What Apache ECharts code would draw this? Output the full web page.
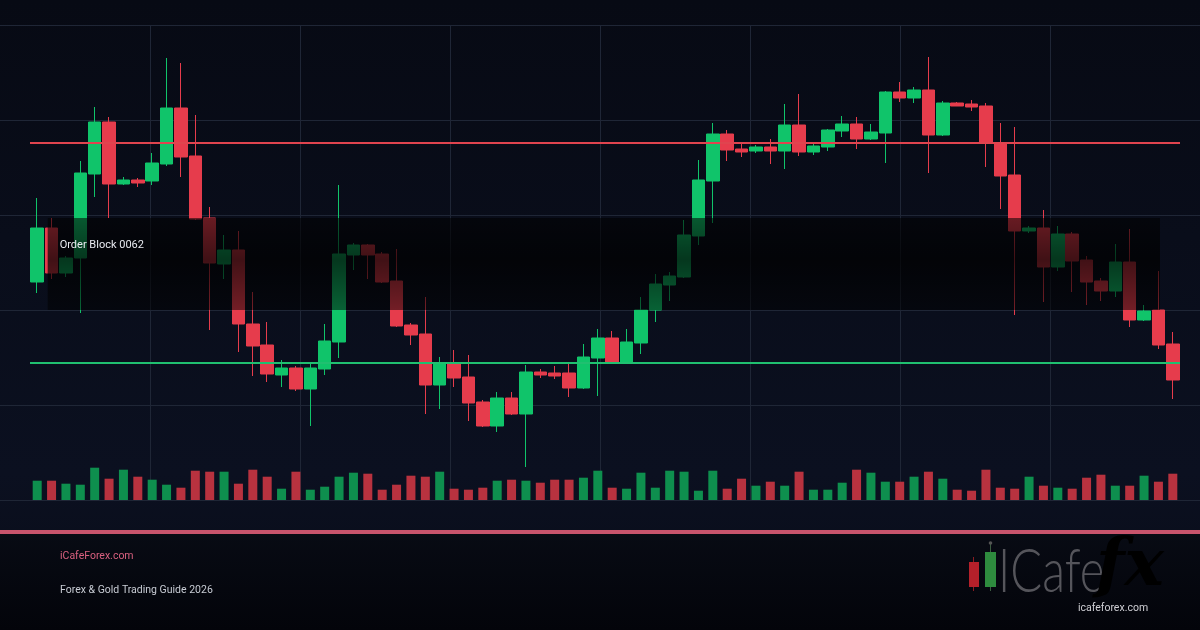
<!DOCTYPE html>
<html>
<head>
<meta charset="utf-8">
<title>Order Block chart</title>
<script src="https://cdn.jsdelivr.net/npm/echarts@6/dist/echarts.min.js"></script>
<style>
  html, body { margin: 0; padding: 0; background: #070a14; }
  #chart { width: 1200px; height: 630px; }
</style>
</head>
<body>
<div id="chart"></div>
<script>
// candle data, price scale ~ gold
var openP  = [2024.3, 2029.7, 2025.2, 2026.7, 2035.1, 2040.3, 2034.1, 2034.5, 2034.4, 2036.1,
              2041.7, 2036.9, 2030.7, 2026.1, 2027.5, 2020.1, 2018.0, 2015.0, 2015.7, 2013.6,
              2015.6, 2018.3, 2027.0, 2028.0, 2027.1, 2024.4, 2020.0, 2019.1, 2014.0, 2016.1,
              2014.8, 2012.3, 2009.9, 2012.7, 2011.1, 2015.3, 2015.2, 2015.2, 2013.7, 2016.7,
              2018.7, 2016.3, 2018.2, 2021.5, 2024.0, 2024.8, 2028.9, 2034.4, 2039.1, 2037.6,
              2037.4, 2037.8, 2037.4, 2040.0, 2037.3, 2037.8, 2039.4, 2040.1, 2038.6, 2039.2,
              2043.3, 2042.7, 2043.5, 2039.0, 2042.2, 2042.1, 2041.9, 2038.2, 2035.0, 2029.4,
              2029.7, 2025.8, 2029.1, 2026.5, 2024.4, 2023.4, 2026.3, 2020.5, 2021.5, 2018.1];
var closeP = [2029.7, 2025.2, 2026.7, 2035.2, 2040.3, 2034.1, 2034.5, 2034.2, 2036.2, 2041.7,
              2036.8, 2030.6, 2026.2, 2027.5, 2020.1, 2017.9, 2015.1, 2015.7, 2013.6, 2015.7,
              2018.4, 2027.1, 2028.0, 2027.0, 2024.3, 2019.9, 2019.0, 2014.0, 2016.2, 2014.7,
              2012.2, 2009.9, 2012.7, 2011.1, 2015.3, 2015.0, 2014.9, 2013.7, 2016.8, 2018.7,
              2016.3, 2018.3, 2021.5, 2024.1, 2024.9, 2029.0, 2034.5, 2039.1, 2037.5, 2037.3,
              2037.8, 2037.4, 2040.0, 2037.3, 2037.9, 2039.5, 2040.1, 2038.6, 2039.3, 2043.3,
              2042.7, 2043.5, 2039.0, 2042.2, 2041.9, 2041.8, 2038.2, 2034.9, 2029.4, 2029.7,
              2025.8, 2029.1, 2026.4, 2024.3, 2023.4, 2026.3, 2020.5, 2021.4, 2018.0, 2014.5];
var lowP   = [2023.2, 2024.6, 2024.8, 2021.2, 2032.8, 2030.7, 2034.0, 2033.8, 2034.0, 2035.9,
              2034.8, 2030.5, 2019.5, 2024.6, 2017.3, 2014.9, 2014.3, 2013.8, 2013.4, 2009.9,
              2015.0, 2016.7, 2025.5, 2024.6, 2024.2, 2019.8, 2018.0, 2011.1, 2011.6, 2013.8,
              2010.4, 2009.8, 2009.3, 2011.0, 2005.8, 2014.7, 2014.6, 2012.8, 2013.6, 2012.9,
              2016.1, 2016.2, 2017.1, 2020.3, 2022.4, 2024.7, 2028.0, 2030.2, 2036.4, 2036.8,
              2037.2, 2036.1, 2035.6, 2036.9, 2037.0, 2037.4, 2038.8, 2037.6, 2038.5, 2036.2,
              2042.3, 2042.2, 2035.2, 2038.9, 2041.9, 2041.4, 2035.8, 2031.6, 2021.0, 2029.2,
              2022.3, 2025.4, 2023.3, 2022.0, 2022.4, 2022.8, 2019.8, 2020.4, 2017.6, 2012.6];
var highP  = [2032.7, 2030.7, 2026.9, 2036.4, 2041.8, 2040.8, 2034.8, 2034.7, 2037.2, 2046.7,
              2046.2, 2041.0, 2031.8, 2029.0, 2029.4, 2023.3, 2020.3, 2016.5, 2015.9, 2016.1,
              2020.1, 2034.0, 2028.2, 2028.1, 2027.3, 2027.6, 2020.2, 2022.8, 2016.8, 2017.5,
              2017.0, 2012.5, 2013.3, 2013.3, 2016.0, 2015.6, 2015.9, 2016.3, 2018.1, 2019.6,
              2019.4, 2019.6, 2022.8, 2025.1, 2025.3, 2030.5, 2036.5, 2040.2, 2039.5, 2038.1,
              2038.0, 2038.6, 2042.1, 2043.1, 2038.1, 2039.6, 2040.9, 2040.8, 2040.1, 2043.4,
              2044.3, 2043.8, 2046.8, 2042.4, 2042.3, 2042.5, 2042.2, 2040.2, 2039.8, 2029.9,
              2031.5, 2029.9, 2029.3, 2026.9, 2024.7, 2028.1, 2029.6, 2022.0, 2025.4, 2019.3];
var volume = [1930, 1930, 1630, 1530, 3230, 2130, 3030, 2330, 2030, 1530,
              1230, 2930, 2830, 2830, 1630, 3030, 2330, 1130, 2830, 1030,
              1330, 2330, 2730, 2630, 1030, 1530, 2430, 2330, 2830, 1130,
              1030, 1230, 1930, 2030, 1930, 1730, 2030, 2030, 2230, 2930,
              1230, 1130, 2730, 1230, 2930, 2830, 930, 2930, 1130, 2130,
              1430, 1830, 1430, 2830, 1030, 1030, 1730, 3030, 2730, 1830,
              1830, 2330, 2830, 2130, 1030, 930, 3030, 1230, 1130, 2330,
              1430, 1230, 1130, 2230, 2530, 1430, 1430, 2430, 1830, 2630];

var resistance = 2038.2;
var support = 2016.2;
// order block: [from candle, to candle] and [top, bottom] price
var obRange = [0.73, 78.11];
var obPrice = [2030.7, 2021.5];
var obName = 'Order Block 0062';

var UP = '#10c46a', DOWN = '#e63c4c';
var VOL_UP = '#0e8f4e', VOL_DOWN = '#b8323f';
var GRID_LINE = '#1f2636';

var cats = openP.map(function (v, i) { return 'c' + i; });
var candles = openP.map(function (o, i) { return [o, closeP[i], lowP[i], highP[i]]; });
var volData = volume.map(function (v, i) {
    return { value: v, itemStyle: { color: closeP[i] >= openP[i] ? VOL_UP : VOL_DOWN } };
});

var chart = echarts.init(document.getElementById('chart'), null, { renderer: 'canvas' });

// fractional category position -> pixel, via the axis
function xAt(api, v, p) {
    var idx = Math.floor(v);
    var band = api.size([1, 0])[0];
    var pt = api.coord([idx, p]);
    return [pt[0] + (v - idx) * band, pt[1]];
}

var option = {
    animation: false,
    backgroundColor: {
        type: 'linear', x: 0, y: 0, x2: 0, y2: 1,
        colorStops: [
            { offset: 0, color: '#070a14' },
            { offset: 0.75, color: '#0b1020' },
            { offset: 1, color: '#090c18' }
        ]
    },
    grid: [
        { left: 30, right: 20, top: 25, height: 475 },
        { left: 30, right: 20, top: 440, height: 60 },
        { left: 0, right: 0, top: 25, height: 475 }
    ],
    xAxis: [
        { type: 'category', data: cats, gridIndex: 0, show: false },
        { type: 'category', data: cats, gridIndex: 1, show: false },
        { type: 'value', gridIndex: 2, min: 0, max: 8, interval: 1,
          axisLine: { show: false }, axisTick: { show: false }, axisLabel: { show: false },
          splitLine: { show: true, lineStyle: { width: 1,
              color: ['rgba(0,0,0,0)', GRID_LINE, GRID_LINE, GRID_LINE, GRID_LINE, GRID_LINE, GRID_LINE, GRID_LINE, GRID_LINE] } } }
    ],
    yAxis: [
        { type: 'value', gridIndex: 0, min: 2002.5, max: 2050, show: false, splitLine: { show: false } },
        { type: 'value', gridIndex: 1, min: 0, max: 6000, show: false, splitLine: { show: false } },
        { type: 'value', gridIndex: 2, min: 0, max: 5, interval: 1,
          axisLine: { show: false }, axisTick: { show: false }, axisLabel: { show: false },
          splitLine: { show: true, lineStyle: { color: GRID_LINE, width: 1 } } }
    ],
    series: [
        {
            type: 'bar',
            xAxisIndex: 1, yAxisIndex: 1,
            data: volData,
            barWidth: 9,
            z: 2
        },
        {
            type: 'candlestick',
            xAxisIndex: 0, yAxisIndex: 0,
            data: candles,
            barWidth: 13,
            itemStyle: {
                color: UP, color0: DOWN,
                borderColor: UP, borderColor0: DOWN,
                borderWidth: 1
            },
            markLine: {
                silent: true,
                symbol: ['none', 'none'],
                label: { show: false },
                data: [
                    { yAxis: resistance, lineStyle: { color: '#e0444f', width: 2, type: 'solid' } },
                    { yAxis: support, lineStyle: { color: '#20c070', width: 2, type: 'solid' } }
                ]
            },
            z: 3
        },
        {
            // dark order block box drawn over the candles
            type: 'custom',
            xAxisIndex: 0, yAxisIndex: 0,
            data: [[0, obPrice[0]]],
            clip: false,
            z: 4,
            renderItem: function (params, api) {
                var p0 = xAt(api, obRange[0], obPrice[0]);
                var p1 = xAt(api, obRange[1], obPrice[1]);
                return {
                    type: 'group',
                    children: [
                        {
                            type: 'rect',
                            shape: { x: p0[0], y: p0[1], width: p1[0] - p0[0], height: p1[1] - p0[1] },
                            style: {
                                fill: {
                                    type: 'linear', x: 0, y: 0, x2: 0, y2: 1,
                                    colorStops: [
                                        { offset: 0, color: 'rgba(0,0,0,0.55)' },
                                        { offset: 0.45, color: 'rgba(0,0,0,0.72)' },
                                        { offset: 1, color: 'rgba(0,0,0,0.5)' }
                                    ]
                                }
                            }
                        },
                        {
                            type: 'text',
                            x: p0[0] + 12, y: p0[1] + 27,
                            style: {
                                text: obName,
                                fill: '#e8eaf0',
                                font: '11px Roboto, sans-serif',
                                verticalAlign: 'middle'
                            }
                        }
                    ]
                };
            }
        }
    ],
    graphic: [
        { type: 'rect', shape: { x: 0, y: 531, width: 1200, height: 99 }, z: 1,
          style: { fill: { type: 'linear', x: 0, y: 0, x2: 0, y2: 1,
              colorStops: [{ offset: 0, color: '#080b14' }, { offset: 1, color: '#03040a' }] } } },
        { type: 'rect', shape: { x: 0, y: 530, width: 1200, height: 4 }, z: 2,
          style: { fill: '#c8546c' } },
        { type: 'text', x: 60, y: 556, z: 2,
          style: { text: 'iCafeForex.com', fill: '#d9607f', font: '10.5px Roboto, sans-serif', verticalAlign: 'middle' } },
        { type: 'text', x: 60, y: 590, z: 2,
          style: { text: 'Forex & Gold Trading Guide 2026', fill: '#c8ccd4', font: '10.5px Roboto, sans-serif', verticalAlign: 'middle' } },
        // logo
        { type: 'line', shape: { x1: 973.5, y1: 557, x2: 973.5, y2: 591 }, z: 2, style: { stroke: '#8a1c22', lineWidth: 1 } },
        { type: 'rect', shape: { x: 969, y: 562, width: 10, height: 25 }, z: 3, style: { fill: '#b5202a' } },
        { type: 'line', shape: { x1: 990.5, y1: 543, x2: 990.5, y2: 591 }, z: 2, style: { stroke: '#3b5a40', lineWidth: 1 } },
        { type: 'circle', shape: { cx: 990.5, cy: 543, r: 1.8 }, z: 2, style: { fill: '#555' } },
        { type: 'rect', shape: { x: 985, y: 552, width: 11, height: 35 }, z: 3, style: { fill: '#2e8b3e' } },
        { type: 'text', x: 998, y: 572, z: 2, scaleX: 0.76,
          style: { text: 'ICafe', fill: '#55555b', font: '300 62px Lato, sans-serif', verticalAlign: 'middle' } },
        { type: 'text', x: 1096, y: 568, z: 3,
          style: { text: 'fx', font: 'italic bold 66px "DejaVu Serif", serif', verticalAlign: 'middle',
              fill: { type: 'linear', x: 0, y: 0, x2: 0, y2: 1,
                  colorStops: [{ offset: 0, color: '#cfae70' }, { offset: 1, color: '#85673a' }] } } },
        { type: 'text', x: 1113, y: 608, z: 3,
          style: { text: 'icafeforex.com', fill: '#cfcfd4', font: '10.5px Roboto, sans-serif', align: 'center', verticalAlign: 'middle' } }
    ]
};

chart.setOption(option);
</script>
</body>
</html>
